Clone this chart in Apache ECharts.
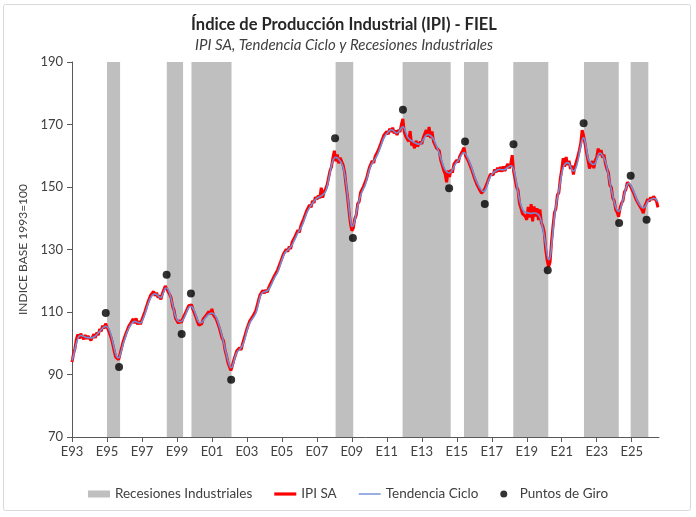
<!DOCTYPE html>
<html><head><meta charset="utf-8">
<script src="https://cdn.jsdelivr.net/npm/echarts@6/dist/echarts.min.js"></script>
<style>html,body{margin:0;padding:0;background:#fff;}#c{width:696px;height:517px;}</style>
</head><body><div id="c"></div>
<script>
// x values are years since January 1993 (monthly data)
const startYear = 1993;
const xTickValues = [0,2,4,6,8,10,12,14,16,18,20,22,24,26,28,30,32];
const xTickLabels = ['E93','E95','E97','E99','E01','E03','E05','E07','E09','E11','E13','E15','E17','E19','E21','E23','E25'];
const yTickLabels = [70,90,110,130,150,170,190];

const ipiSA = [
 94.0,96.5,98.3,101.2,102.8,101.5,103.1,102.0,101.3,102.6,101.4,102.3,
 102.5,100.9,101.4,102.9,101.7,103.4,102.6,104.5,103.8,105.6,104.7,106.3,
 105.9,104.2,104.3,101.5,99.6,97.4,95.6,95.0,94.8,96.6,97.2,100.4,
 101.8,103.1,103.0,105.5,106.2,105.7,107.8,106.4,108.0,106.0,107.1,106.1,
 107.6,107.7,110.1,110.3,113.0,113.2,115.4,114.8,116.6,115.2,116.2,114.6,
 115.3,114.0,115.9,116.1,118.3,117.4,117.9,115.6,114.6,111.8,110.6,108.0,
 107.9,106.4,107.4,106.6,107.9,108.0,109.9,110.1,112.0,111.6,112.3,110.8,
 110.6,108.4,107.0,105.8,105.9,106.2,107.8,107.2,108.9,108.3,110.2,109.3,
 111.0,109.1,109.6,107.7,107.5,105.0,104.4,101.6,100.7,97.8,96.0,93.8,
 92.5,91.3,92.8,94.6,95.2,97.5,96.9,98.6,97.9,99.8,100.2,103.0,
 104.6,105.0,107.2,106.8,108.6,108.1,110.3,110.6,113.8,115.5,115.2,116.9,
 116.0,117.1,116.3,117.9,117.5,119.8,119.4,121.7,121.1,123.4,123.2,125.9,
 126.2,128.5,128.3,130.1,129.3,130.9,130.2,132.3,131.8,134.1,133.9,136.2,
 135.5,137.6,137.2,139.9,139.7,142.4,142.0,144.3,143.5,145.6,144.9,146.8,
 146.0,147.3,146.4,149.8,146.6,148.5,149.4,150.6,152.9,155.2,156.4,159.3,
 161.6,158.2,160.4,157.6,159.3,158.8,157.0,154.8,150.6,147.0,142.5,138.4,
 136.0,136.9,139.8,141.0,144.6,145.3,148.3,148.1,150.2,150.0,152.6,153.2,
 156.2,156.1,158.4,157.7,159.8,159.3,161.6,161.5,164.1,164.0,166.6,166.0,
 167.8,166.9,168.7,167.6,169.0,167.2,168.1,166.6,168.3,167.6,170.0,171.8,
 167.5,166.2,165.6,164.6,167.9,163.3,164.0,162.4,164.8,163.0,162.6,164.5,
 163.8,165.8,165.3,168.2,166.1,169.2,165.7,167.8,164.6,165.2,162.5,162.7,
 161.6,158.5,158.3,155.4,154.2,151.5,155.3,153.2,155.5,154.6,157.3,156.7,
 158.6,157.9,159.8,159.5,161.6,162.6,160.0,160.4,158.2,158.1,155.8,155.6,
 153.0,152.9,150.6,150.9,148.8,148.0,147.4,149.2,149.0,151.5,151.7,154.1,
 154.6,153.9,155.6,154.7,156.2,155.0,156.4,154.9,156.6,155.1,156.5,157.4,
 156.0,157.4,160.2,155.0,154.4,150.0,149.0,144.8,143.2,141.5,141.0,140.6,
 139.5,143.6,140.2,144.5,139.0,143.8,140.6,143.2,139.4,142.8,138.6,137.5,
 135.5,130.0,126.5,124.5,126.0,132.5,137.5,141.8,143.2,147.4,148.2,152.6,
 155.6,159.2,156.5,159.6,157.0,158.4,155.8,156.8,154.0,156.4,155.8,159.7,
 161.6,163.9,168.2,166.4,163.8,160.9,158.6,155.9,157.1,158.3,156.0,158.5,
 159.5,162.3,160.2,161.8,159.4,160.3,157.4,155.7,154.6,150.6,149.9,146.5,
 145.6,142.8,141.9,140.5,143.2,144.8,145.6,148.4,149.2,151.5,150.9,150.4,
 150.3,148.4,148.3,146.0,146.0,144.3,144.6,142.7,141.6,143.9,144.2,146.1,
 145.4,146.7,145.9,147.0,146.2,145.5,143.5
];

const tendenciaCiclo = [
 94.5,96,98,100,101.5,102.3,102.5,102.4,102.2,102.0,101.8,101.8,
 101.8,101.7,101.8,102,102.3,102.8,103.3,103.8,104.3,104.8,105.2,105.4,
 105.3,104.8,103.8,102.2,100.3,98.3,96.5,95.5,95.3,96.2,97.8,99.6,
 101.1,102.5,103.8,104.8,105.6,106.3,106.8,107.0,106.9,106.7,106.5,106.5,
 107,108,109.3,110.8,112.3,113.6,114.6,115.3,115.7,115.8,115.6,115.2,
 114.8,114.6,115.3,116.5,117.5,117.7,117.2,116,114.3,112.3,110.3,108.6,
 107.6,107.1,106.9,107.0,107.4,108.2,109.3,110.4,111.3,111.8,111.7,111.2,
 110.3,109,107.6,106.7,106.5,106.7,107.2,107.8,108.4,108.9,109.3,109.6,
 109.7,109.5,109,108.2,107,105.6,104,102.2,100.3,98.3,96.3,94.5,
 93,92.2,92.5,94,95.8,97,97.6,98.0,98.6,99.3,100.5,102.2,
 104,105.5,106.5,107.3,108,108.7,109.5,111,113,114.8,115.8,116.3,
 116.5,116.6,116.8,117.3,118,119,120,121,121.8,122.6,123.8,125.2,
 126.6,127.8,128.8,129.4,129.8,130.3,130.8,131.5,132.4,133.4,134.4,135.4,
 136,136.8,137.8,139,140.3,141.6,142.6,143.4,144.1,144.8,145.4,146,
 146.4,146.7,146.9,147.2,147.5,147.9,148.6,150,152.2,154.6,156.8,158.5,
 159.3,159.5,159.3,158.9,158.3,157.6,156.3,154.2,151.3,147.5,143.3,139.6,
 137.4,137.6,139.3,141.6,143.8,145.8,147.3,148.5,149.5,150.5,152,153.8,
 155.5,156.7,157.6,158.3,159,159.8,160.8,162,163.3,164.6,165.7,166.5,
 167.1,167.6,168,168.3,168.2,167.8,167.4,167.3,167.6,168.2,168.9,169.3,
 168.8,167.5,166.2,165.5,165.1,164.8,164.5,164.2,164,163.8,163.7,163.8,
 164.3,165.1,165.9,166.5,166.8,166.7,166.4,166,165.3,164.3,163.2,162,
 160.8,159.3,157.8,156.5,155.5,154.9,154.6,154.5,154.8,155.5,156.4,157.3,
 158,158.5,159.2,160.1,160.8,161,160.6,159.8,158.8,157.6,156.4,155,
 153.6,152.3,151.3,150.4,149.6,149,148.6,148.7,149.5,150.8,152.2,153.3,
 154,154.5,154.9,155.2,155.5,155.6,155.6,155.5,155.5,155.6,155.9,156.3,
 156.6,156.8,156.6,155.6,153.6,151,148.3,146,144.2,142.9,142.2,141.9,
 141.8,141.7,141.6,141.5,141.6,141.7,141.7,141.5,141.1,140.3,138.9,136.8,
 134.3,131.5,128.5,126.7,127.5,131,136,140.6,143.8,146.5,148.8,151.5,
 154.3,156.2,157.2,157.6,157.8,157.5,156.6,155.6,155.1,155.4,156.5,158.2,
 160.5,163,165,165.8,164.5,161.8,159.3,158.2,157.7,157.3,157.2,157.6,
 158.8,160.2,160.9,160.7,160,159.3,158,156.3,153.8,151.5,149.2,147.2,
 145.2,143.6,142.6,142.2,142.6,144.2,146,147.8,149.6,150.8,151.2,150.8,
 149.9,148.9,147.8,146.5,145.5,144.7,144,143.5,143.3,143.6,144.4,145.4,
 145.8,146,146.2,146.4,146.3,145.8,145.3
];

// recession periods [start, end] in decimal years
const recesiones = [
 [1995.0,1995.75],[1998.42,1999.35],[1999.83,2002.12],[2008.07,2009.08],
 [2011.9,2014.65],[2015.41,2016.8],[2018.23,2020.23],[2022.27,2024.26],[2024.94,2025.95]
];

// turning points [decimal year, value]
const puntosGiro = [
 [1994.93,109.7],[1995.69,92.4],[1998.41,121.9],[1999.27,103.0],[1999.8,115.9],[2002.1,88.3],
 [2008.04,165.6],[2009.06,133.7],[2011.92,174.7],[2014.56,149.6],[2015.47,164.6],[2016.6,144.6],
 [2018.24,163.7],[2020.2,123.4],[2022.25,170.4],[2024.28,138.5],[2024.94,153.6],[2025.85,139.5]
];

const ipiData = ipiSA.map((v,i)=>[i/12, v]);
const trendData = tendenciaCiclo.map((v,i)=>[i/12, v]);
const recData = recesiones.map(r=>[r[0]-startYear, r[1]-startYear, yTickLabels[0], yTickLabels[yTickLabels.length-1]]);
const giroData = puntosGiro.map(p=>[p[0]-startYear, p[1]]);

const FONT = 'Lato';
const chart = echarts.init(document.getElementById('c'), null, {renderer:'canvas'});
chart.setOption({
  animation:false,
  backgroundColor:'#ffffff',
  textStyle:{fontFamily:FONT},
  graphic:[{type:'rect', z:-10, shape:{x:3.5,y:4.5,width:687,height:506,r:2}, style:{fill:'#fff', stroke:'#d9d9d9', lineWidth:1}}],
  title:{
    text:'Índice de Producción Industrial (IPI) - FIEL',
    subtext:'IPI SA, Tendencia Ciclo y Recesiones Industriales',
    left:339, top:11, textAlign:'center', itemGap:5,
    textStyle:{fontFamily:FONT, fontSize:16.5, fontWeight:'bold', color:'#262626'},
    subtextStyle:{fontFamily:FONT, fontSize:15, fontStyle:'italic', color:'#404040'}
  },
  legend:{
    left:'center', top:482, itemWidth:22, itemHeight:7, itemGap:22,
    textStyle:{fontFamily:FONT, fontSize:13.5, color:'#404040'},
    data:[
      {name:'Recesiones Industriales', icon:'rect'},
      {name:'IPI SA', icon:'path://M0,0L22,0L22,3.2L0,3.2Z'},
      {name:'Tendencia Ciclo', icon:'path://M0,0L22,0L22,1.4L0,1.4Z'},
      {name:'Puntos de Giro', icon:'circle'}
    ]
  },
  grid:{left:72, right:37, top:62, bottom:80},
  xAxis:{
    type:'value', min:0, max:33.56,
    splitLine:{show:false},
    axisLine:{show:true, lineStyle:{color:'#595959', width:1}},
    axisTick:{show:true, length:5, customValues:xTickValues, lineStyle:{color:'#595959'}},
    axisLabel:{customValues:xTickValues, margin:8, fontFamily:FONT, fontSize:13, color:'#404040',
      formatter:(v)=>xTickLabels[Math.round(v/2)] || ''}
  },
  yAxis:{
    type:'value', min:70, max:190, interval:20,
    name:'INDICE BASE 1993=100', nameLocation:'middle', nameGap:43,
    nameTextStyle:{fontFamily:FONT, fontSize:12, color:'#404040'},
    splitLine:{show:false},
    axisLine:{show:true, lineStyle:{color:'#595959', width:1}},
    axisTick:{show:true, length:5, lineStyle:{color:'#595959'}},
    axisLabel:{margin:9, fontFamily:FONT, fontSize:13, color:'#404040'}
  },
  series:[
    {
      name:'Recesiones Industriales', type:'custom', data:recData,
      encode:{x:[0,1], y:[2,3]},
      itemStyle:{color:'#bfbfbf'},
      renderItem:function(params, api){
        const p0 = api.coord([api.value(0), api.value(3)]);
        const p1 = api.coord([api.value(1), api.value(2)]);
        return {type:'rect', shape:{x:p0[0], y:p0[1], width:p1[0]-p0[0], height:p1[1]-p0[1]},
          style:{fill:'#bfbfbf'}};
      },
      z:1
    },
    {
      name:'IPI SA', type:'line', data:ipiData, symbol:'none', showSymbol:false,
      lineStyle:{color:'#ff0000', width:3}, itemStyle:{color:'#ff0000'}, z:2
    },
    {
      name:'Tendencia Ciclo', type:'line', data:trendData, symbol:'none', showSymbol:false, smooth:0.3,
      lineStyle:{color:'#6f8fd8', width:1.6}, itemStyle:{color:'#6f8fd8'}, z:3
    },
    {
      name:'Puntos de Giro', type:'scatter', data:giroData, symbol:'circle', symbolSize:8,
      itemStyle:{color:'#000000'}, z:4
    }
  ]
});
</script></body></html>
